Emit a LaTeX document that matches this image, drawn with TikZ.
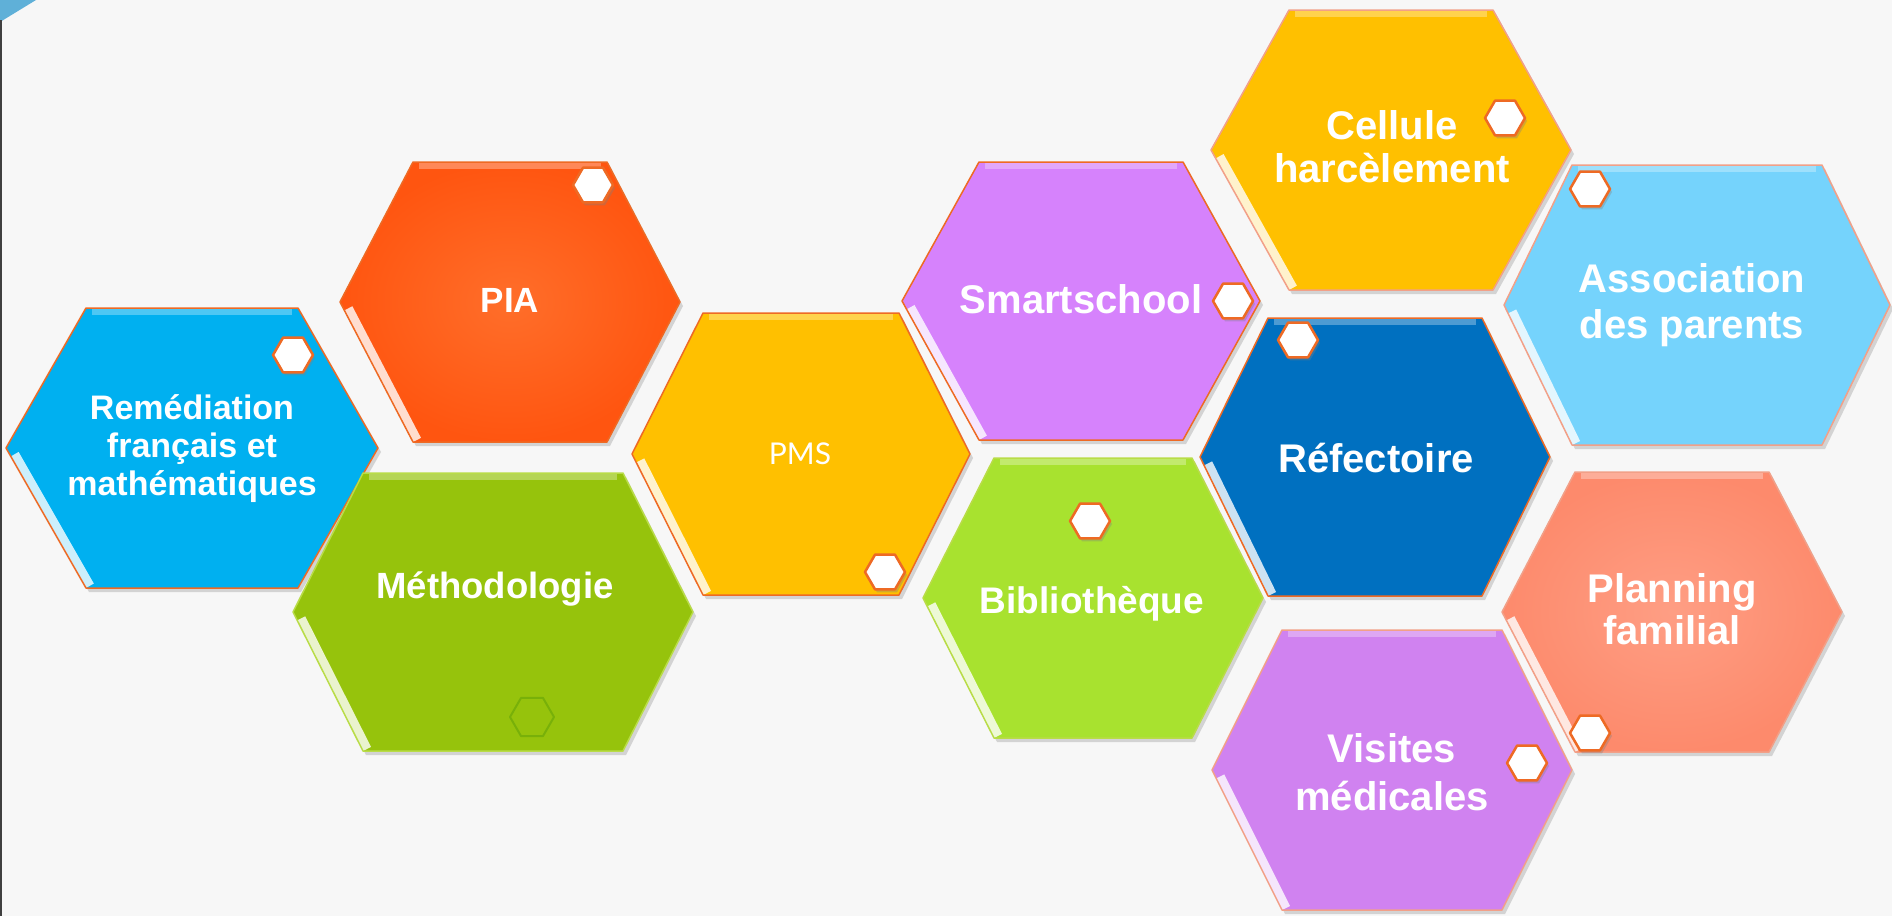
\documentclass[tikz,border=0pt]{standalone}
\usepackage{fontspec}
\setmainfont{Liberation Sans}
\newfontfamily\pmsfont{Lato}
\usetikzlibrary{shapes.geometric,shadows}
\definecolor{bgc}{HTML}{F7F7F7}
\definecolor{cornerblue}{HTML}{5FB0D8}
\definecolor{remblue}{HTML}{00B0F0}
\definecolor{piaorange}{HTML}{FF5510}
\definecolor{piacore}{HTML}{FF6E2A}
\definecolor{gold}{HTML}{FFC000}
\definecolor{metgreen}{HTML}{96C30C}
\definecolor{smartlila}{HTML}{D682FC}
\definecolor{assoblue}{HTML}{75D3FC}
\definecolor{refblue}{HTML}{0070C0}
\definecolor{bibgreen}{HTML}{A8E22F}
\definecolor{plansalmon}{HTML}{FD8A6C}
\definecolor{plancore}{HTML}{FE9E84}
\definecolor{vislila}{HTML}{D082F0}
\definecolor{edgeorange}{HTML}{EE6A24}
\definecolor{edgesalmon}{HTML}{F2A088}
\definecolor{edgegreen}{HTML}{B9DC48}
\newcommand{\hexcell}[7]{%
  \def\hexp{({#1-#3},#2) -- ({#1-#5},{#2-#4}) -- ({#1+#5},{#2-#4}) -- ({#1+#3},#2) -- ({#1+#5},{#2+#4}) -- ({#1-#5},{#2+#4}) -- cycle}%
  \fill[#6, drop shadow={opacity=.3,shadow xshift=3pt,shadow yshift=-4pt}] \hexp;
  \begin{scope}
    \clip \hexp;
    \draw[white, opacity=.8, line width=18pt] ({#1-#3+0.06*(#3-#5)},{#2+0.06*#4}) -- ({#1-#5},{#2+#4});
    \draw[white, opacity=.3, line width=14pt] ({#1-#5+6},{#2-#4}) -- ({#1+#5-6},{#2-#4});
  \end{scope}
  \draw[#7, line width=1.5pt] \hexp;
}

\begin{document}
\begin{tikzpicture}[x=1pt, y=-1pt, line join=round,
  knob/.style={regular polygon, regular polygon sides=6, minimum size=40pt, inner sep=0pt,
    fill=white, draw=edgeorange, line width=2.5pt, drop shadow={opacity=.35,shadow xshift=2pt,shadow yshift=-3pt}},
  lbl/.style={text=white, align=center, inner sep=0pt}]
\clip (0,0) rectangle (1892,916);
\fill[bgc] (0,0) rectangle (1892,916);
\fill[cornerblue] (0,0) -- (36,0) -- (0,22) -- cycle;
\draw[black!75, line width=2.5pt] (1,20) -- (1,916);

\hexcell{192}{448}{186}{140}{106}{remblue}{edgeorange}
\hexcell{510}{302}{170}{140}{97}{inner color=piacore, outer color=piaorange}{edgeorange}
\hexcell{801}{454}{169}{141}{98}{gold}{edgeorange}
\hexcell{493}{612}{200}{139}{130}{metgreen}{edgegreen}
\hexcell{1081}{301}{179}{139}{102}{smartlila}{edgeorange}
\hexcell{1093}{598}{170}{140}{99}{bibgreen}{edgegreen}
\hexcell{1375}{457}{175}{139}{107}{refblue}{edgeorange}
\hexcell{1391}{150}{180}{140}{102}{gold}{edgesalmon}
\hexcell{1697}{305}{193}{140}{125}{assoblue}{edgesalmon}
\hexcell{1672}{612}{170}{140}{97}{inner color=plancore, outer color=plansalmon}{edgesalmon}
\hexcell{1392}{770}{180}{140}{110}{vislila}{edgesalmon}

\node[knob] (krem) at (293,355) {};
\node[knob] (kpia) at (593,185) {};
\node[knob] (kpms) at (885,572) {};
\node[regular polygon, regular polygon sides=6, minimum size=44pt, draw=green!40!black, opacity=.2, line width=2pt] (kmet) at (532,717) {};
\node[knob] (kcell) at (1505,118) {};
\node[knob] (ksmart) at (1233,301) {};
\node[knob] (kasso) at (1590,189) {};
\node[knob] (krefe) at (1298,340) {};
\node[knob] (kbib) at (1090,521) {};
\node[knob] (kplan) at (1590,733) {};
\node[knob] (kvis) at (1527,763) {};

\node[lbl, font=\fontsize{34}{38}\selectfont\bfseries] (rem) at (192,449) {Remédiation\\français et\\mathématiques};
\node[lbl, font=\fontsize{35}{40}\selectfont\bfseries] (pia) at (510,300) {PIA};
\node[lbl, font=\fontsize{30}{36}\selectfont\pmsfont] (pms) at (800,454) {PMS};
\node[lbl, font=\fontsize{36.5}{42}\selectfont\bfseries] (met) at (495,589) {Méthodologie};
\node[lbl, font=\fontsize{40}{43}\selectfont\bfseries] (cell) at (1392,147) {Cellule\\harcèlement};
\node[lbl, font=\fontsize{40}{45}\selectfont\bfseries] (smart) at (1081,299) {Smartschool};
\node[lbl, font=\fontsize{40}{46}\selectfont\bfseries] (asso) at (1692,305) {Association\\des parents};
\node[lbl, font=\fontsize{40}{45}\selectfont\bfseries] (refe) at (1376,458) {Réfectoire};
\node[lbl, font=\fontsize{37}{42}\selectfont\bfseries] (bib) at (1092,604) {Bibliothèque};
\node[lbl, font=\fontsize{40}{42}\selectfont\bfseries] (plan) at (1672,609) {Planning\\familial};
\node[lbl, font=\fontsize{40}{48}\selectfont\bfseries] (vis) at (1392,772) {Visites\\médicales};
\end{tikzpicture}
\end{document}
